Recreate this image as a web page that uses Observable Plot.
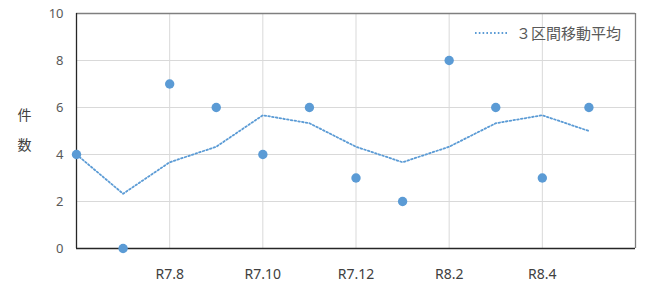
<!DOCTYPE html>
<html>
<head>
<meta charset="utf-8">
<script src="https://cdn.jsdelivr.net/npm/d3@7"></script>
<script src="https://cdn.jsdelivr.net/npm/@observablehq/plot@0.6"></script>
<style>
  html, body { margin: 0; padding: 0; background: #fff; }
  #wrap { position: relative; width: 650px; height: 293px; }
  #legend { position: absolute; left: 475px; top: 22px; display: flex; align-items: center;
    font-family: "Noto Sans CJK JP", sans-serif; font-size: 15px; color: #595959; }
  #legend svg { margin-right: 7px; }
</style>
</head>
<body>
<div id="wrap"><div id="legend"></div></div>
<script>
const months = ["R7.6","R7.7","R7.8","R7.9","R7.10","R7.11","R7.12","R8.1","R8.2","R8.3","R8.4","R8.5"];
const counts = [4, 0, 7, 6, 4, 6, 3, 2, 8, 6, 3, 6];
const movingAvg = [4, 2.33, 3.67, 4.33, 5.67, 5.33, 4.33, 3.67, 4.33, 5.33, 5.67, 5];
const xTickIdx = [2, 4, 6, 8, 10];
const yTicks = [0, 2, 4, 6, 8, 10];
const legendLabel = "３区間移動平均";
const yLabel = "件\n数";
const color = "#5B9BD5";

const data = months.map((m, i) => ({i, m, c: counts[i], a: movingAvg[i]}));

const chart = Plot.plot({
  width: 650,
  height: 293,
  marginLeft: 76,
  marginRight: 15,
  marginTop: 13,
  marginBottom: 45,
  style: {fontFamily: "'Noto Sans', sans-serif", fontSize: "13px", color: "#595959", background: "#fff"},
  x: {domain: [0, 12], ticks: xTickIdx},
  y: {domain: [0, 10], ticks: yTicks},
  marks: [
    Plot.gridY([2, 4, 6, 8], {stroke: "#d9d9d9", strokeOpacity: 1}),
    Plot.gridX(xTickIdx, {stroke: "#d9d9d9", strokeOpacity: 1}),
    Plot.ruleY([10], {stroke: "#7f7f7f", strokeWidth: 1.3}),
    Plot.ruleX([12], {stroke: "#7f7f7f", strokeWidth: 1.3}),
    Plot.ruleX([0], {stroke: "#262626", strokeWidth: 1.3}),
    Plot.ruleY([0], {stroke: "#262626", strokeWidth: 1.3}),
    Plot.axisY({ticks: yTicks, tickSize: 0, tickPadding: 13, label: null, fontSize: 13, fill: "#595959"}),
    Plot.axisX({ticks: xTickIdx, tickSize: 0, tickPadding: 21, label: null, fontSize: 14, fill: "#404040",
      tickFormat: i => months[i]}),
    Plot.text([yLabel], {frameAnchor: "left", dx: -59, dy: -6, lineHeight: 2.15, fontSize: 14,
      fill: "#404040", fontFamily: "'Noto Sans CJK JP', sans-serif", text: d => d}),
    Plot.line(data, {x: "i", y: "a", stroke: color, strokeWidth: 1.8, strokeDasharray: "1.6,2.2"}),
    Plot.dot(data, {x: "i", y: "c", r: 4.7, fill: color, stroke: "none"})
  ]
});
const wrap = document.getElementById("wrap");
wrap.insertBefore(chart, wrap.firstChild);
chart.style.position = "absolute"; chart.style.left = "0"; chart.style.top = "0";

const lg = document.getElementById("legend");
lg.innerHTML = `<svg width="34" height="4"><line x1="0" y1="2" x2="34" y2="2" stroke="${color}" stroke-width="1.8" stroke-dasharray="1.6,2.2"/></svg><span></span>`;
lg.querySelector("span").textContent = legendLabel;
</script>
</body>
</html>
